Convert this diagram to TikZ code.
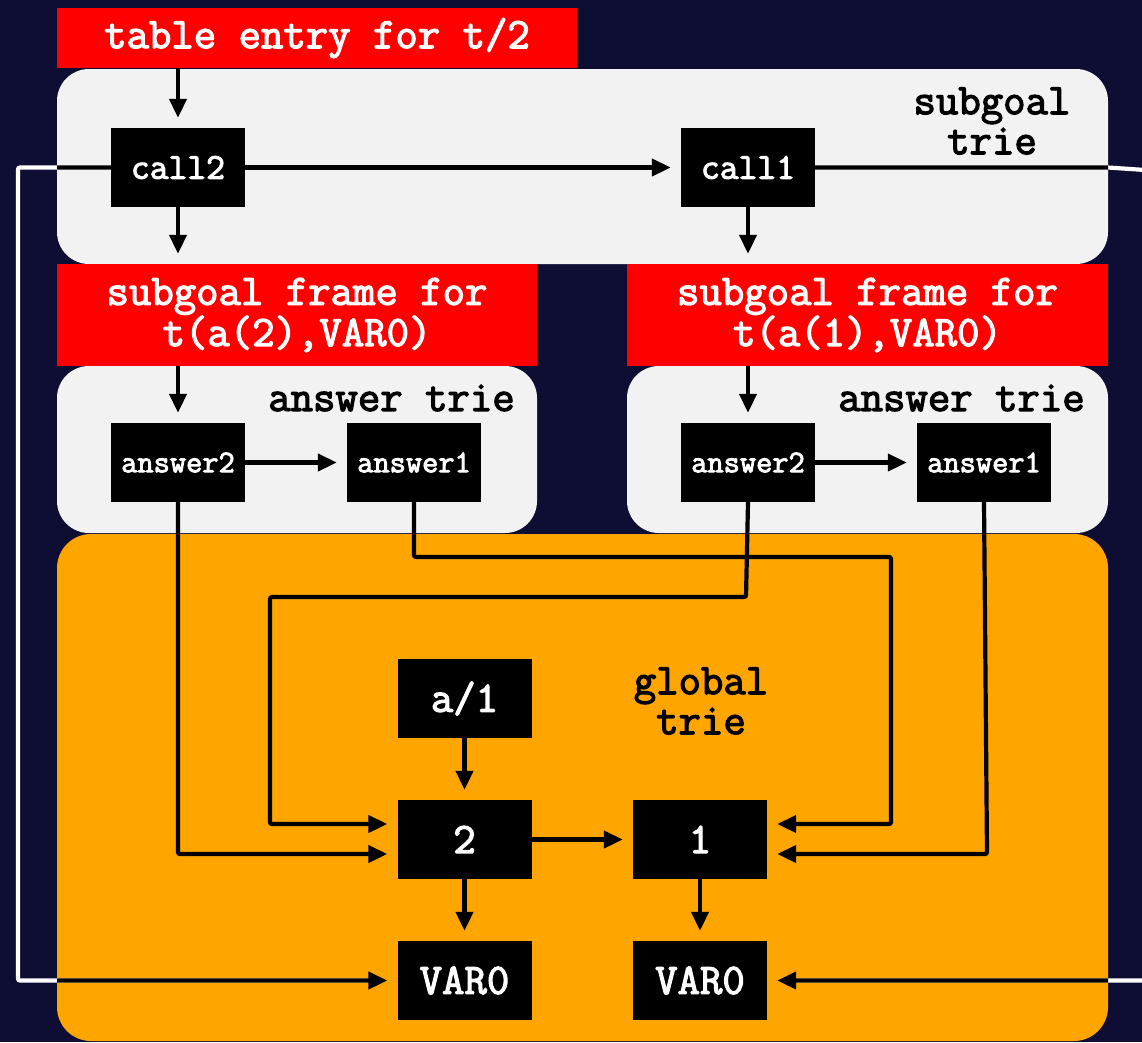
\documentclass[tikz,border=0pt]{standalone}
\usepackage{fontspec}
\newfontfamily\cour{Latin Modern Mono}[FakeBold=2.8]
\usetikzlibrary{arrows.meta}
\definecolor{navy}{RGB}{14,14,52}
\definecolor{panel}{RGB}{242,242,242}
\definecolor{glob}{RGB}{255,165,0}
\definecolor{hdr}{RGB}{255,0,0}
\tikzset{
  bigtxt/.style={font=\cour\fontsize{43.5}{40}\selectfont},
  cell/.style={fill=black, text=white, minimum width=134pt, minimum height=79pt, inner sep=0pt, font=\cour\fontsize{43.5}{40}\selectfont},
  callcell/.style={cell, font=\cour\fontsize{36.5}{34}\selectfont},
  anscell/.style={cell, font=\cour\fontsize{31.5}{30}\selectfont},
  header/.style={fill=hdr, text=white, inner sep=0pt, align=center, bigtxt},
  wire/.style={line width=4.2pt, rounded corners=2pt},
  arr/.style={wire, -{Triangle[length=19pt,width=17pt]}, shorten >=10pt},
}
\begin{document}
\begin{tikzpicture}[x=1pt,y=-1pt]
\useasboundingbox (0,0) rectangle (1142,1042);
\fill[navy] (0,0) rectangle (1142,1042);
% panels
\fill[panel, rounded corners=32pt] (57,69) rectangle (1108,264);
\fill[panel, rounded corners=32pt] (57,366) rectangle (537,533);
\fill[panel, rounded corners=32pt] (627,366) rectangle (1108,533);
\fill[glob, rounded corners=34pt] (57,534) rectangle (1108,1041);
% headers
\node[header, minimum width=520pt, minimum height=60pt] (te) at (317,38) {table entry for t/2};
\node[header, minimum width=480pt, minimum height=102pt] (sf2) at (297,315) {subgoal frame for\\t(a(2),VAR0)};
\node[header, minimum width=481pt, minimum height=102pt] (sf1) at (867.5,315) {subgoal frame for\\t(a(1),VAR0)};
% labels
\node[bigtxt, align=center, text=black] (lsg) at (992,121) {subgoal\\trie};
\node[bigtxt, text=black] (lat2) at (391.5,398) {answer trie};
\node[bigtxt, text=black] (lat1) at (961.5,398) {answer trie};
\node[bigtxt, align=center, text=black] (lgt) at (701,701) {global\\trie};
% cells
\node[callcell] (call2) at (178,167.5) {call2};
\node[callcell] (call1) at (748,167.5) {call1};
\node[anscell] (a2l) at (178,462.5) {answer2};
\node[anscell] (a1l) at (414,462.5) {answer1};
\node[anscell] (a2r) at (748,462.5) {answer2};
\node[anscell] (a1r) at (984,462.5) {answer1};
\node[cell] (fa) at (464.5,698.5) {a/1};
\node[cell] (n2) at (464.5,839.5) {2};
\node[cell] (n1) at (700,839.5) {1};
\node[cell] (v0l) at (464.5,980.5) {VAR0};
\node[cell] (v0r) at (700,980.5) {VAR0};
% simple arrows
\draw[arr] (te.south -| call2) -- (call2.north);
\draw[arr] (call2.south) -- (sf2.north -| call2);
\draw[arr] (call2.east) -- (call1.west);
\draw[arr] (call1.south) -- (sf1.north -| call1);
\draw[arr] (sf2.south -| a2l) -- (a2l.north);
\draw[arr] (sf1.south -| a2r) -- (a2r.north);
\draw[arr] (a2l.east) -- (a1l.west);
\draw[arr] (a2r.east) -- (a1r.west);
\draw[arr] (fa.south) -- (n2.north);
\draw[arr] (n2.east) -- (n1.west);
\draw[arr] (n2.south) -- (v0l.north);
\draw[arr] (n1.south) -- (v0r.north);
% answer links into global trie
\draw[arr] (a2l.south) -- (178,854) -- ([yshift=-14.5pt]n2.west);
\draw[arr] (a1l.south) -- (414,557) -- (891,557) -- (891,824) -- ([yshift=15.5pt]n1.east);
\draw[arr] (a2r.south) -- (746,597) -- (270,597) -- (270,824) -- ([yshift=15.5pt]n2.west);
\draw[arr] (a1r.south) -- (987,854) -- ([yshift=-14.5pt]n1.east);
% call links to VAR0 (white outside the panels, black inside)
\coordinate (lc1) at (18,167.5);
\coordinate (rc0) at (1108,167.5);
\coordinate (rc1) at (1160,171);
\draw[wire, white, shorten >=30pt] (call2.west) -- (lc1) |- (v0l.west);
\draw[wire, white, shorten >=30pt] (call1.east) -- (rc0) -- (rc1) |- (v0r.east);
\begin{scope}
\clip (57,69) rectangle (1108,264) (57,534) rectangle (1108,1042);
\draw[arr] (call2.west) -- (lc1) |- (v0l.west);
\draw[arr] (call1.east) -- (rc0) -- (rc1) |- (v0r.east);
\end{scope}
\end{tikzpicture}
\end{document}
